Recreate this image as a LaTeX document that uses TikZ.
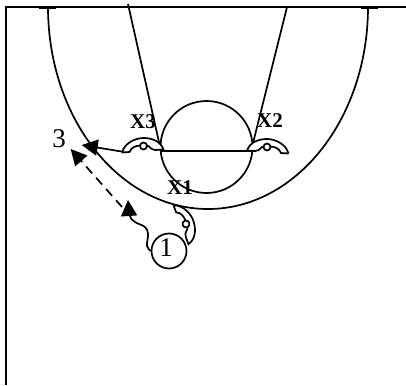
\documentclass[tikz,border=0pt]{standalone}
\usepackage{fontspec}
\setmainfont{Liberation Serif}
\usetikzlibrary{arrows.meta}

\tikzset{
    court/.style={line width=1.7pt},
    label/.style={font=\fontsize{21}{21}\selectfont\bfseries, inner sep=0pt},
    number/.style={font=\fontsize{27}{27}\selectfont, inner sep=0pt},
    tip/.style={-{Triangle[length=16pt,width=16pt]}},
    defender/.pic={
        \draw[court, fill=white] (-21.5,6.5) .. controls (-19,-3) and (-8,-8) .. (0,-8)
            .. controls (8,-8) and (17,-5) .. (20,3.5)
            -- (12,4) .. controls (7,4) and (6,-0.5) .. (3.5,-0.5)
            -- (-3.5,-0.5) .. controls (-8,0) and (-12,1) .. (-14,6)
            -- (-21.5,6.5);
        \draw[court, fill=white] (0,0) circle (3.5);
    }
}

\begin{document}
\begin{tikzpicture}[x=1pt, y=-1pt]
    \useasboundingbox (0,0) rectangle (406,385);

    % court border
    \draw[court] (6,385) -- (6,7) -- (406,7);
    \draw[line width=2.5pt] (39,7.5) -- (56,7.5);
    \draw[line width=2.5pt] (361,7.5) -- (378,7.5);

    % three point line
    \draw[court] (48,7) arc[start angle=180, end angle=0, x radius=160, y radius=202];

    % lane
    \draw[court] (128,4) -- (161,151);
    \draw[court] (287,7) -- (251,151);
    \draw[court] (161,151) -- (251,151);
    \node[draw, circle, line width=1.7pt, minimum size=92pt, inner sep=0pt] (key) at (206.5,147) {};

    % defenders
    \pic at (143.5,146) {defender};
    \pic[xscale=-1] at (267,147) {defender};
    \pic[rotate=-73] at (186,224) {defender};
    \node[label] (x3) at (143,122) {X3};
    \node[label] (x2) at (270,121) {X2};
    \node[label] (x1) at (180,188) {X1};

    % players
    \node[draw, circle, line width=1.7pt, minimum size=35pt, inner sep=0pt] (p1) at (169,251) {};
    \node[number] (one) at (166,248) {1};
    \node[number] (p3) at (59,139) {3};

    % dribble
    \coordinate (drive) at (128,200);
    \draw[court, tip] plot[smooth, tension=0.6] coordinates {(p1.west) (147,246) (148,234) (145,227) (135,222) (130,216) (drive)};

    % pass to 3
    \coordinate (passfrom) at (122.7,151.7);
    \coordinate (passto) at (81.7,145);
    \draw[court, tip] (passfrom) -- (passto);

    % cut of 3
    \coordinate (cutfrom) at (122,207);
    \coordinate (cutto) at (70.7,149);
    \draw[court, tip, dash pattern=on 9pt off 6pt] (cutfrom) -- (cutto);

\end{tikzpicture}
\end{document}
